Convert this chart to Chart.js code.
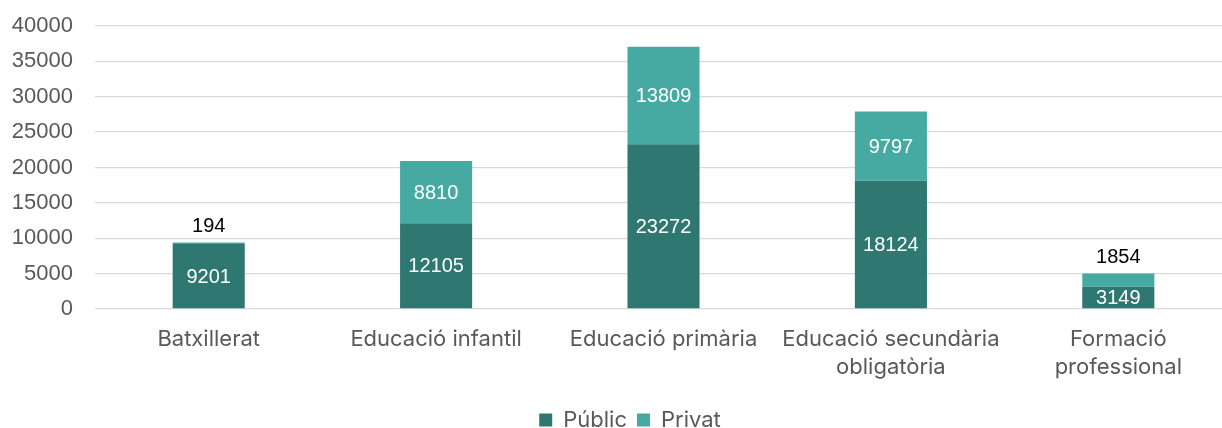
<!DOCTYPE html>
<html><head><meta charset="utf-8">
<script src="https://cdn.jsdelivr.net/npm/chart.js@4.4.1/dist/chart.umd.min.js"></script>
<style>html,body{margin:0;padding:0;overflow:hidden;background:#fff}#wrap{width:1260px;height:441px}</style>
</head><body><div id="wrap"><canvas id="c" width="1260" height="441"></canvas></div>
<script>
const categories = [["Batxillerat"], ["Educació infantil"], ["Educació primària"], ["Educació secundària", "obligatòria"], ["Formació", "professional"]];
const seriesNames = ["Públic", "Privat"];
const publicValues = [9201, 12105, 23272, 18124, 3149];
const privatValues = [194, 8810, 13809, 9797, 1854];
const yTickValues = [0, 5000, 10000, 15000, 20000, 25000, 30000, 35000, 40000];

const labelFont = "'Liberation Sans', Arial, sans-serif";
const catFont = "Inter, 'Noto Sans', sans-serif";

const dataLabels = {
  id: 'dataLabels',
  afterDatasetsDraw(chart) {
    const ctx = chart.ctx;
    ctx.save();
    ctx.font = "20px " + labelFont;
    ctx.textAlign = 'center';
    ctx.textBaseline = 'middle';
    chart.data.datasets.forEach((ds, i) => {
      const meta = chart.getDatasetMeta(i);
      meta.data.forEach((bar, j) => {
        const v = ds.data[j];
        const top = Math.min(bar.y, bar.base), bottom = Math.max(bar.y, bar.base);
        const h = bottom - top;
        if (h >= 18) {
          ctx.fillStyle = '#ffffff';
          ctx.fillText(String(v), bar.x, (top + bottom) / 2 + 1);
        } else {
          ctx.fillStyle = '#000000';
          ctx.fillText(String(v), bar.x, top - 16);
        }
      });
    });
    ctx.restore();
  }
};

const legendShift = {
  id: 'legendShift',
  afterLayout(chart) {
    const lg = chart.legend;
    if (lg) { lg.left += 14; lg.right += 14; }
  }
};

new Chart(document.getElementById('c'), {
  type: 'bar',
  data: {
    labels: categories,
    datasets: [
      { label: seriesNames[0], data: publicValues, backgroundColor: '#2F7872', borderWidth: 0 },
      { label: seriesNames[1], data: privatValues, backgroundColor: '#46AAA2', borderWidth: 0 }
    ]
  },
  options: {
    responsive: false,
    animation: false,
    devicePixelRatio: 1,
    layout: { padding: { top: 26, left: 0, right: 28, bottom: 0 } },
    datasets: { bar: { categoryPercentage: 1, barPercentage: 0.317 } },
    plugins: {
      legend: {
        position: 'bottom',
        labels: {
          boxWidth: 13, boxHeight: 13, padding: 10,
          color: '#595959',
          font: { family: catFont, size: 22 }
        }
      },
      tooltip: { enabled: false }
    },
    scales: {
      x: {
        stacked: true,
        grid: { display: false },
        border: { display: false },
        ticks: {
          color: '#595959', padding: 8, maxRotation: 0, autoSkip: false,
          font: { family: catFont, size: 22, lineHeight: 1.27 }
        },
        afterFit(s) { s.height = 90; s.paddingLeft = 0; s.paddingRight = 0; }
      },
      y: {
        stacked: true,
        min: 0, max: 40000,
        afterBuildTicks(s) { s.ticks = yTickValues.map(v => ({ value: v })); },
        grid: { color: '#d9d9d9', lineWidth: 1.3, drawTicks: false },
        border: { display: false },
        ticks: {
          color: '#595959', padding: 22,
          font: { family: labelFont, size: 22 },
          callback: v => String(v)
        },
        afterFit(s) { s.width = 95; s.paddingTop = 0; s.paddingBottom = 0; }
      }
    }
  },
  plugins: [dataLabels, legendShift]
});
</script></body></html>
